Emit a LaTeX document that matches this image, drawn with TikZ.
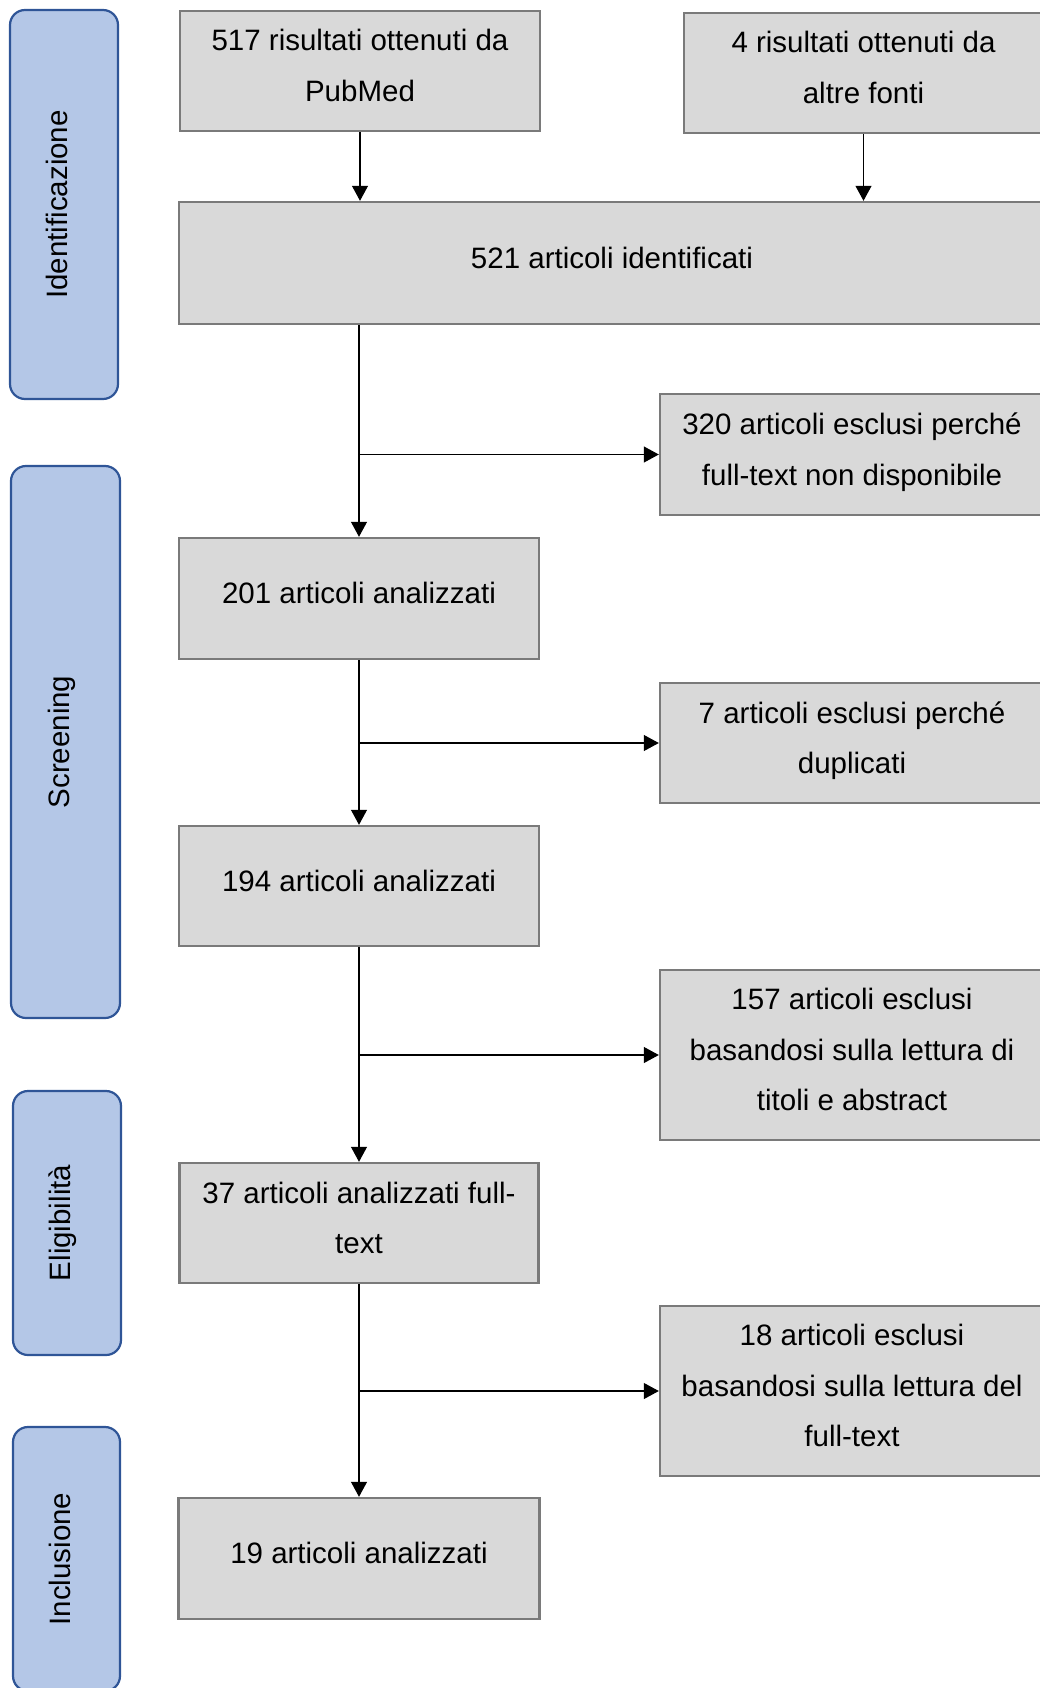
\documentclass[tikz,border=0pt]{standalone}
\usepackage{fontspec}
\setmainfont{Liberation Sans}
\usetikzlibrary{arrows.meta}
\definecolor{boxfill}{HTML}{D9D9D9}
\definecolor{boxline}{HTML}{7A7A7A}
\definecolor{barfill}{HTML}{B4C7E7}
\definecolor{barline}{HTML}{2F5597}
\newcommand\lstrut{\rule[-20pt]{0pt}{50.5pt}}
\begin{document}
\begin{tikzpicture}[x=1pt,y=-1pt,
  box/.style={draw=boxline, line width=2.4pt, fill=boxfill, inner sep=0pt, align=center,
    font=\fontsize{29.5}{50.5}\selectfont},
  bar/.style={draw=barline, line width=2.2pt, fill=barfill, rounded corners=15pt, inner sep=0pt},
  barlabel/.style={rotate=90, anchor=base, inner sep=0pt, font=\fontsize{29.5}{35}\selectfont},
  conn/.style={line width=1.1pt, -{Triangle[length=15pt,width=16pt]}}]
\path[use as bounding box, clip] (0,0) rectangle (1040,1688);

% phase bars
\node[bar, minimum width=108pt, minimum height=389pt] (s1) at (64,204.5) {};
\node[bar, minimum width=109pt, minimum height=552pt] (s2) at (65.5,742) {};
\node[bar, minimum width=108pt, minimum height=264pt] (s3) at (67,1223) {};
\node[bar, minimum width=107pt, minimum height=264pt] (s4) at (66.5,1559) {};
\node[barlabel] (l1) at (67.5,204.5) {Identificazione};
\node[barlabel] (l2) at (69,742) {Screening};
\node[barlabel] (l3) at (70.5,1223) {Eligibilità};
\node[barlabel] (l4) at (70,1559) {Inclusione};

% boxes
\node[box, minimum width=360pt, minimum height=120pt] (b517) at (360,71)
  {\lstrut 517 risultati ottenuti da\\\lstrut PubMed};
\node[box, minimum width=359pt, minimum height=120pt] (b4) at (863.5,73)
  {\lstrut 4 risultati ottenuti da\\\lstrut altre fonti};
\node[box, minimum width=866pt, minimum height=122pt] (b521) at (612,263)
  {\lstrut 521 articoli identificati};
\node[box, minimum width=384pt, minimum height=121pt] (b320) at (852,454.5)
  {\lstrut 320 articoli esclusi perché\\\lstrut full-text non disponibile};
\node[box, minimum width=360pt, minimum height=121pt] (b201) at (359,598.5)
  {\lstrut 201 articoli analizzati};
\node[box, minimum width=384pt, minimum height=120pt] (b7) at (852,743)
  {\lstrut 7 articoli esclusi perché\\\lstrut duplicati};
\node[box, minimum width=360pt, minimum height=120pt] (b194) at (359,886)
  {\lstrut 194 articoli analizzati};
\node[box, minimum width=384pt, minimum height=170pt] (b157) at (852,1055)
  {\lstrut 157 articoli esclusi\\\lstrut basandosi sulla lettura di\\\lstrut titoli e abstract};
\node[box, minimum width=359pt, minimum height=120pt] (b37) at (359,1223)
  {\lstrut 37 articoli analizzati full-\\\lstrut text};
\node[box, minimum width=384pt, minimum height=170pt] (b18) at (852,1391)
  {\lstrut 18 articoli esclusi\\\lstrut basandosi sulla lettura del\\\lstrut full-text};
\node[box, minimum width=361pt, minimum height=121pt] (b19) at (359,1558.5)
  {\lstrut 19 articoli analizzati};

% connectors
\draw[conn] (b517.south) -- (b517.south |- b521.north);
\draw[conn] (b4.south) -- (b4.south |- b521.north);
\draw[conn] (b201.north |- b521.south) -- (b201.north);
\draw[conn] (b201.north |- b320.west) -- (b320.west);
\draw[conn] (b201.south) -- (b201.south |- b194.north);
\draw[conn] (b201.south |- b7.west) -- (b7.west);
\draw[conn] (b194.south) -- (b194.south |- b37.north);
\draw[conn] (b194.south |- b157.west) -- (b157.west);
\draw[conn] (b37.south) -- (b37.south |- b19.north);
\draw[conn] (b37.south |- b18.west) -- (b18.west);
\end{tikzpicture}
\end{document}
